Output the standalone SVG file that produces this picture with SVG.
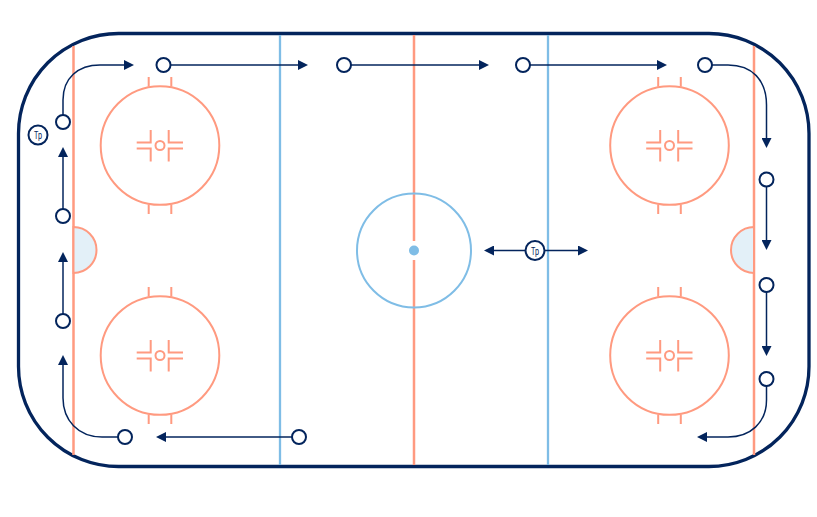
<svg xmlns="http://www.w3.org/2000/svg" width="817" height="517" viewBox="0 0 817 517">
<style>
.rink{fill:#fff;stroke:#03245c;stroke-width:3.3}
.red{fill:none;stroke:#ff9a80;stroke-width:2}
.redl{fill:none;stroke:#ff9a80;stroke-width:2.5}
.blue{fill:none;stroke:#7fbde6;stroke-width:2}
.bluel{fill:none;stroke:#7fbde6;stroke-width:2.3}
.crease{fill:#e3f0f8;stroke:#ff9a80;stroke-width:2}
.con{fill:none;stroke:#03245c;stroke-width:1.5;marker-end:url(#arrow)}
.node{fill:#fff;stroke:#03245c;stroke-width:2}
.tp{font-family:"Roboto",sans-serif;font-size:10px;fill:#03245c;text-anchor:middle}
</style>
<defs>
<marker id="arrow" markerUnits="userSpaceOnUse" markerWidth="10" markerHeight="10" viewBox="0 0 10 10" refX="0" refY="5" orient="auto"><path d="M0 0L10 5L0 10Z" fill="#03245c"/></marker>
<g id="faceoff">
<circle class="red" r="59.3"/>
<path class="red" d="M-11.3 -68.5V-59M11.3 -68.5V-59M-11.3 59V68.5M11.3 59V68.5M-23.3 -3H-9.3V-15.5M-23.3 3H-9.3V16M23 -3H8.7V-15.5M23 3H8.7V16"/>
<circle class="red" r="4.5"/>
</g>
</defs>
<g id="rink">
<rect class="rink" x="18.5" y="33.5" width="790.5" height="433" rx="100" ry="100"/>
<path class="redl" d="M73.5 46V455M754 46V455"/>
<path class="bluel" d="M280 35V465M548 35V465"/>
<path class="redl" d="M414 35V241M414 260V465"/>
<path class="crease" d="M73.5 227A23 23 0 0 1 73.5 273Z"/>
<path class="crease" d="M754 227A23 23 0 0 0 754 273Z"/>
<circle class="blue" cx="414" cy="250.5" r="57"/>
<circle cx="414" cy="250.5" r="5" fill="#7fbde6"/>
<use href="#faceoff" x="160" y="145.5"/>
<use href="#faceoff" x="160" y="355.5"/>
<use href="#faceoff" x="669.5" y="145.5"/>
<use href="#faceoff" x="669.5" y="355.5"/>
</g>
<g id="connectors">
<path class="con" d="M63 115V100C63 78 78 65 100 65H124"/>
<path class="con" d="M170 65H298"/>
<path class="con" d="M351 65H479"/>
<path class="con" d="M530 65H657"/>
<path class="con" d="M712 65H728C752 65 766.5 80 766.5 105V138"/>
<path class="con" d="M766.5 186V240"/>
<path class="con" d="M766.5 292V346"/>
<path class="con" d="M766.5 386V400C766.5 423 750 437 728 437H707"/>
<path class="con" d="M292 437H166"/>
<path class="con" d="M118 437H102C78 437 63 420 63 398V365"/>
<path class="con" d="M63 314V262"/>
<path class="con" d="M63 209V157"/>
<path class="con" d="M535 250.5H494"/>
<path class="con" d="M535 250.5H578"/>
</g>
<g id="n1"><circle class="node" cx="163.5" cy="65" r="7"/></g>
<g id="n2"><circle class="node" cx="344" cy="65" r="7"/></g>
<g id="n3"><circle class="node" cx="523" cy="65" r="7"/></g>
<g id="n4"><circle class="node" cx="705" cy="65" r="7"/></g>
<g id="n5"><circle class="node" cx="766.5" cy="179.5" r="7"/></g>
<g id="n6"><circle class="node" cx="766.5" cy="285" r="7"/></g>
<g id="n7"><circle class="node" cx="766.5" cy="379" r="7"/></g>
<g id="n8"><circle class="node" cx="299" cy="437" r="7"/></g>
<g id="n9"><circle class="node" cx="125" cy="437" r="7"/></g>
<g id="n10"><circle class="node" cx="63" cy="321" r="7"/></g>
<g id="n11"><circle class="node" cx="63" cy="216" r="7"/></g>
<g id="n12"><circle class="node" cx="63" cy="122" r="7"/></g>
<g id="tp1"><circle class="node" cx="38" cy="135" r="9.5"/><text class="tp" x="38" y="139" textLength="8" lengthAdjust="spacingAndGlyphs">Tp</text></g>
<g id="tp2"><circle class="node" cx="535" cy="250.5" r="9.5"/><text class="tp" x="535" y="254.5" textLength="8" lengthAdjust="spacingAndGlyphs">Tp</text></g>
</svg>
